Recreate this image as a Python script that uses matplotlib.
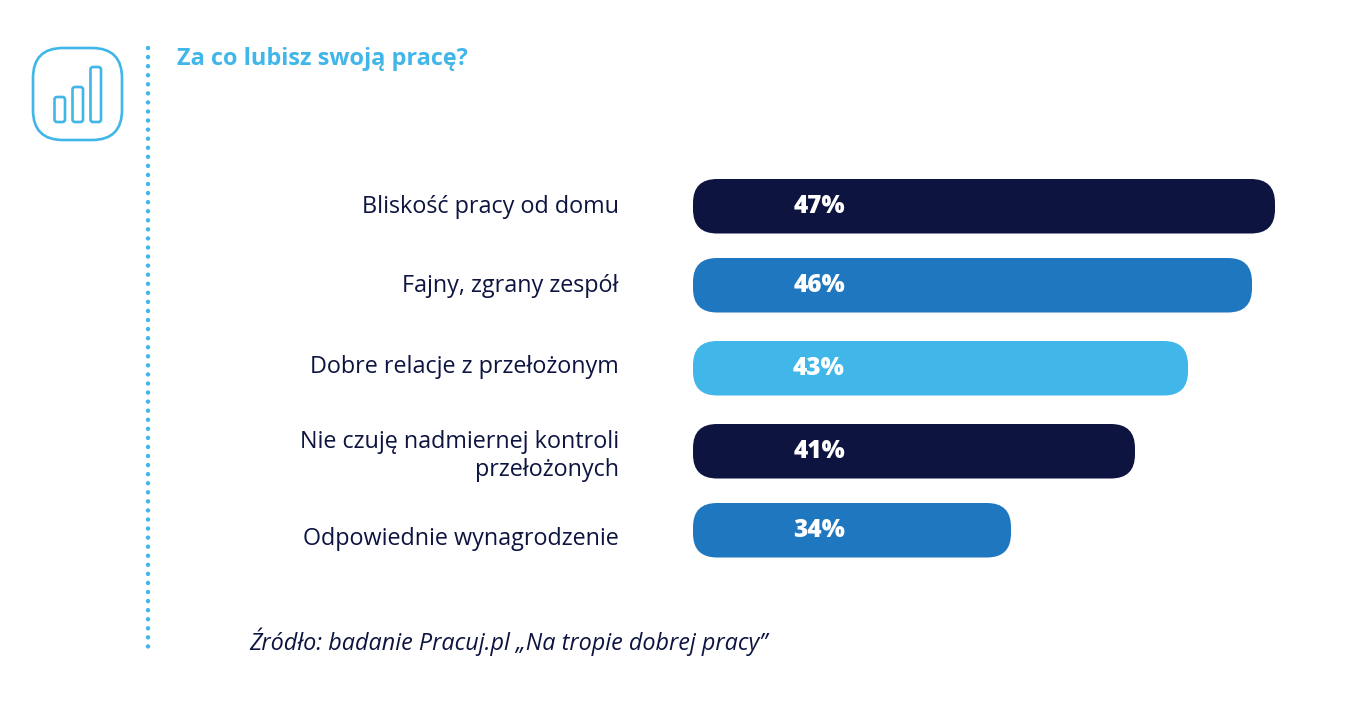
import matplotlib
matplotlib.use("Agg")
import matplotlib.pyplot as plt
from matplotlib.patches import FancyBboxPatch

W, H = 1364, 726
NAVY = "#0d1440"
BLUE = "#1f77c0"
SKY = "#41b6e8"

title = "Za co lubisz swoją pracę?"
source = "Źródło: badanie Pracuj.pl „Na tropie dobrej pracy”"
categories = ["Bliskość pracy od domu", "Fajny, zgrany zespół", "Dobre relacje z przełożonym",
              "Nie czuję nadmiernej kontroli\nprzełożonych", "Odpowiednie wynagrodzenie"]
values = [47, 46, 43, 41, 34]
# drawn length of each bar, the picture does not scale them with the percentages
bar_lengths = [582, 559, 495, 442, 318]
bar_colors = [NAVY, BLUE, SKY, NAVY, BLUE]

plt.rcParams["font.family"] = ["Open Sans", "DejaVu Sans"]

fig = plt.figure(figsize=(W / 100, H / 100), dpi=100)
ax = fig.add_axes([0, 0, 1, 1])
ax.set_xlim(0, W)
ax.set_ylim(H, 0)
ax.axis("off")


def rounded(x0, y0, x1, y1, r, **kw):
    p = FancyBboxPatch((x0 + r, y0 + r), x1 - x0 - 2 * r, y1 - y0 - 2 * r,
                       boxstyle=f"round,pad={r},rounding_size={r}", **kw)
    ax.add_patch(p)


# icon
rounded(33, 48, 122, 140, 30, fc="none", ec=SKY, lw=1.9)
for x0, top in [(54.5, 97), (72.5, 87), (90.5, 67)]:
    rounded(x0, top, x0 + 10.5, 122, 2.5, fc="none", ec=SKY, lw=1.9)

# dotted rule
ax.plot([148, 148], [48, 650], color=SKY, lw=3.2, ls=(0, (0.01, 2.03)), dash_capstyle="round")

ax.text(177, 59, title, color=SKY, fontsize=16.9, fontweight="bold", va="center", ha="left")

# rows
bar_left = 693
bar_tops = [179, 258, 341, 424, 503]
bar_height = 54.5
label_y = [207, 286, 367, 456, 539]
for i, (cat, val, length, col) in enumerate(zip(categories, values, bar_lengths, bar_colors)):
    top = bar_tops[i]
    rounded(bar_left, top, bar_left + length, top + bar_height, 24, fc=col, ec="none")
    ax.text(819, top + bar_height / 2, f"{val}%", color="white", fontsize=17.6,
            fontweight=800, ha="center", va="center")
    ax.text(619, label_y[i], cat, color=NAVY, fontsize=16.8, ha="right", va="center",
            linespacing=1.27, multialignment="right")

ax.text(249, 642, source, color=NAVY, fontsize=16.8, style="italic", ha="left", va="center")

fig.savefig("out.png", dpi=100, facecolor="white")
